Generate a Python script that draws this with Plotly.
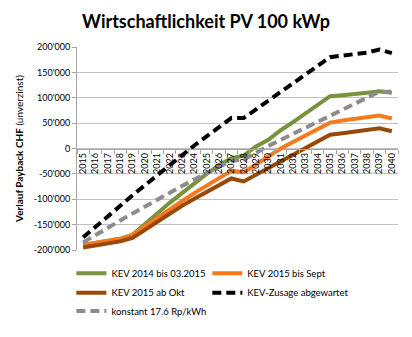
import plotly.graph_objects as go

years = [str(y) for y in range(2015, 2041)]

kev_2014 = [-190, -186, -182, -178, -170, -150, -128, -107, -88, -68, -50, -33, -19, -14,
            4, 17, 36, 52, 69, 86, 103, 105, 107, 110, 113, 110]
kev_2015_sept = [-190, -186, -182, -178, -170, -153, -136, -120, -104, -88, -73, -58, -44, -47,
                 -31, -15, 0, 13, 26, 39, 51, 55, 59, 62, 65, 59]
kev_2015_okt = [-195, -191, -187, -183, -176, -160, -144, -128, -113, -99, -85, -72, -59, -65,
                -52, -39, -26, -13, 0, 14, 27, 30, 33, 36, 40, 34]
kev_zusage = [-175, -155, -134, -113, -92, -72, -52, -32, -12, 6, 24, 42, 60, 60,
              77, 94, 111, 128, 145, 163, 180, 183, 186, 189, 195, 188]
konstant = [-185, -170, -156, -142, -128, -114, -100, -87, -74, -61, -48, -36, -24, -22,
            -8, 5, 17, 29, 41, 53, 65, 77, 89, 100, 112, 112]

series_names = ["KEV 2014 bis 03.2015", "KEV 2015 bis Sept", "KEV 2015 ab Okt",
                "KEV-Zusage abgewartet", "konstant 17.6 Rp/kWh"]

y_tickvals = [-200000, -150000, -100000, -50000, 0, 50000, 100000, 150000, 200000]
y_ticktext = ["-200'000", "-150'000", "-100'000", "-50'000", "0",
              "50'000", "100'000", "150'000", "200'000"]

styles = [
    dict(color="#77933C", width=4, dash="solid"),
    dict(color="#F47A20", width=4, dash="solid"),
    dict(color="#984807", width=4, dash="solid"),
    dict(color="#000000", width=4, dash="9px,5px"),
    dict(color="#8C8C8C", width=4, dash="9px,5px"),
]
legend_ids = ["legend", "legend2", "legend3", "legend4", "legend5"]

fig = go.Figure()
for name, vals, st, lg in zip(series_names,
                              [kev_2014, kev_2015_sept, kev_2015_okt, kev_zusage, konstant],
                              styles, legend_ids):
    fig.add_trace(go.Scatter(x=years, y=[v * 1000 for v in vals], mode="lines",
                             name=name, line=st, legend=lg))

font = "Lato, 'Open Sans', sans-serif"
leg_common = dict(orientation="h", xanchor="left", yanchor="middle",
                  font=dict(size=9.5, family=font), bgcolor="rgba(0,0,0,0)")
col1, col2 = -0.0175, 0.406
row1, row2, row3 = -0.114, -0.21, -0.30
fig.update_layout(
    width=412, height=337,
    margin=dict(l=77, r=14, t=47, b=80),
    paper_bgcolor="white", plot_bgcolor="white",
    font=dict(family=font, size=10, color="#000000"),
    title=dict(text="<b>Wirtschaftlichkeit PV 100 kWp</b>", x=0.5, xanchor="center",
               y=0.935, yanchor="middle", font=dict(size=18, family=font)),
    showlegend=True,
    legend=dict(x=col1, y=row1, **leg_common),
    legend2=dict(x=col2, y=row1, **leg_common),
    legend3=dict(x=col1, y=row2, **leg_common),
    legend4=dict(x=col2, y=row2, **leg_common),
    legend5=dict(x=col1, y=row3, **leg_common),
    xaxis=dict(type="category", anchor="free", position=0.5, showline=True,
               linecolor="#A6A6A6", linewidth=1, ticks="outside", ticklen=4,
               tickcolor="#A6A6A6", tickson="boundaries", tickangle=-90,
               tickfont=dict(size=9, family=font), showgrid=False, zeroline=False,
               range=[-0.5, 25.5]),
    yaxis=dict(range=[-200000, 200000], tickvals=y_tickvals, ticktext=y_ticktext,
               showgrid=True, gridcolor="#BFBFBF", gridwidth=1, zeroline=False,
               showline=True, linecolor="#A6A6A6", ticks="outside", ticklen=4,
               tickcolor="#A6A6A6", tickfont=dict(size=9, family=font),
               title=dict(text="<b>Verlauf Payback CHF</b> (unverzinst)",
                          font=dict(size=10, family=font), standoff=8)),
)

fig.write_html("out.html")
